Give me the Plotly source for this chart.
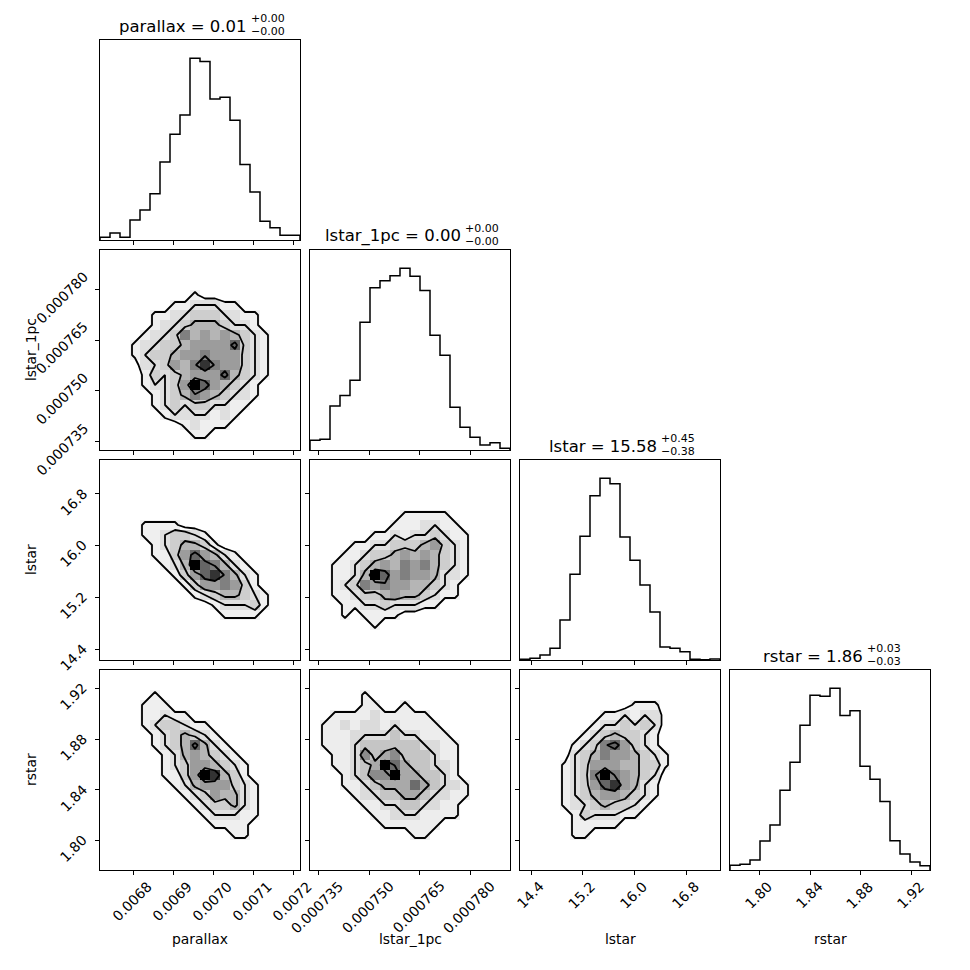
import numpy as np
import plotly.graph_objects as go

# ---------------- data ----------------
labels = ["parallax", "lstar_1pc", "lstar", "rstar"]
axis_ranges = [[0.006716, 0.007216], [0.0007325, 0.0007918], [14.23, 17.32], [1.7766, 1.9345]]
tick_values = [[0.0068, 0.0069, 0.0070, 0.0071, 0.0072],
               [0.000735, 0.000750, 0.000765, 0.000780],
               [14.4, 15.2, 16.0, 16.8],
               [1.80, 1.84, 1.88, 1.92]]
tick_text = [["0.0068", "0.0069", "0.0070", "0.0071", "0.0072"],
             ["0.000735", "0.000750", "0.000765", "0.000780"],
             ["14.4", "15.2", "16.0", "16.8"],
             ["1.80", "1.84", "1.88", "1.92"]]
title_value = ["0.01", "0.00", "15.58", "1.86"]
title_plus = ["+0.00", "+0.00", "+0.45", "+0.03"]
title_minus = ["\u22120.00", "\u22120.00", "\u22120.38", "\u22120.03"]

hist_parallax = [8, 21, 8, 60, 90, 139, 234, 317, 375, 545, 535, 423, 428, 359, 226, 144, 56, 37, 14, 14]
hist_lstar_1pc = [29, 32, 132, 163, 209, 383, 486, 507, 522, 545, 521, 478, 344, 284, 128, 68, 38, 15, 22, 5]
hist_lstar = [2, 5, 15, 35, 120, 257, 371, 492, 545, 528, 369, 299, 225, 144, 39, 35, 25, 2, 1, 3]
hist_rstar = [14, 17, 30, 87, 135, 239, 323, 434, 524, 521, 545, 463, 477, 311, 272, 205, 88, 48, 24, 13]
hists = [hist_parallax, hist_lstar_1pc, hist_lstar, hist_rstar]

# 2D histograms, 20x20 bins, rows listed from top (high y) to bottom; (first column, values)
density_parallax_lstar_1pc = [
    (0, ""), (0, ""), (0, ""), (0, ""),
    (9, "1"),
    (7, "1122211"),
    (5, "11223332211"),
    (5, "12234443221"),
    (4, "1223645454321"),
    (3, "12233455557321"),
    (3, "12334556555321"),
    (4, "2235468655321"),
    (4, "1323455574321"),
    (4, "122359754321"),
    (5, "12346543221"),
    (5, "1232332211"),
    (6, "12222121"),
    (8, "12111"),
    (9, "11"),
    (0, ""),
]
density_parallax_lstar = [
    (0, ""), (0, ""), (0, ""), (0, ""), (0, ""), (0, ""),
    (4, "1111"),
    (4, "1123321"),
    (5, "1234431"),
    (5, "113575421"),
    (6, "124976421"),
    (7, "135786421"),
    (8, "13556531"),
    (9, "12344321"),
    (11, "122231"),
    (12, "1111"),
    (0, ""), (0, ""), (0, ""), (0, ""),
]
density_lstar_1pc_lstar = [
    (0, ""), (0, ""), (0, ""), (0, ""), (0, ""),
    (9, "11111"),
    (8, "1112211"),
    (6, "1121223211"),
    (4, "112233345321"),
    (3, "1123345454321"),
    (2, "11234546564321"),
    (2, "11249756554221"),
    (2, "1236565544321"),
    (2, "1123345443211"),
    (3, "1122322211"),
    (3, "101111"),
    (6, "1"),
    (0, ""), (0, ""), (0, ""),
]
density_parallax_rstar = [
    (0, ""), (0, ""),
    (5, "1"),
    (4, "111"),
    (4, "11211"),
    (4, "1233211"),
    (5, "1234321"),
    (5, "12347421"),
    (6, "12454321"),
    (6, "123554321"),
    (6, "113598431"),
    (7, "124555321"),
    (8, "12354421"),
    (9, "1233421"),
    (10, "122211"),
    (11, "1111"),
    (13, "11"),
    (0, ""), (0, ""), (0, ""),
]
density_lstar_1pc_rstar = [
    (0, ""), (0, ""),
    (5, "1"),
    (5, "11001"),
    (2, "1111211111"),
    (1, "112122121111"),
    (1, "1112222322111"),
    (1, "11123333332211"),
    (2, "1125345333211"),
    (2, "1123486433221"),
    (3, "123558443321"),
    (3, "1123444643221"),
    (4, "122334432211"),
    (5, "1122332211"),
    (6, "112221111"),
    (7, "111111"),
    (10, "11"),
    (0, ""), (0, ""), (0, ""),
]
density_lstar_rstar = [
    (0, ""), (0, ""), (0, ""),
    (11, "111"),
    (8, "112122"),
    (7, "1223232"),
    (6, "12343321"),
    (5, "123675321"),
    (5, "2346554321"),
    (4, "12355544331"),
    (4, "1236965432"),
    (4, "1235785421"),
    (4, "1234554321"),
    (4, "122343321"),
    (5, "1322211"),
    (5, "11111"),
    (5, "11"),
    (0, ""), (0, ""), (0, ""),
]
densities = {(1, 0): density_parallax_lstar_1pc,
             (2, 0): density_parallax_lstar,
             (2, 1): density_lstar_1pc_lstar,
             (3, 0): density_parallax_rstar,
             (3, 1): density_lstar_1pc_rstar,
             (3, 2): density_lstar_rstar}
contour_levels = [0.7, 2.0, 3.6, 6.2]

NB = 20

# ---------------- layout helpers ----------------
FONT = "DejaVu Sans"
BODY = 8                       # page margin of the html body
L, R, T, B = 100, 40, 40, 100  # in page pixels
PW = 830
PANEL, GAP = 200, 10
FIG = PW + L + R - BODY        # 962


def X(px):
    return (px - L) / PW


def Y(py):
    return (870 - py) / PW


def grid(spec):
    g = np.zeros((NB, NB))
    for i, (start, vals) in enumerate(spec):
        for j, ch in enumerate(vals):
            g[i, start + j] = int(ch)
    return g[::-1]  # bottom row first


CW = {'a': 0.613, 'b': 0.635, 'c': 0.550, 'd': 0.635, 'e': 0.615, 'f': 0.352, 'g': 0.635,
      'h': 0.634, 'i': 0.278, 'j': 0.278, 'k': 0.579, 'l': 0.278, 'm': 0.974, 'n': 0.634,
      'o': 0.612, 'p': 0.635, 'q': 0.635, 'r': 0.411, 's': 0.521, 't': 0.392, 'u': 0.634,
      'v': 0.592, 'w': 0.818, 'x': 0.592, 'y': 0.592, 'z': 0.525, '_': 0.5, ' ': 0.318,
      '=': 0.838, '.': 0.318, '+': 0.838, '\u2212': 0.838}


def text_w(s, size):
    return sum(CW.get(ch, 0.636) for ch in s) * size


fig = go.Figure()
layout = {}
annotations = []
panel_id = {}
k = 0
for r in range(4):
    for c in range(r + 1):
        k += 1
        panel_id[(r, c)] = k
        xa = "x" if k == 1 else f"x{k}"
        ya = "y" if k == 1 else f"y{k}"
        x0 = c * (PANEL + GAP)
        y_top = r * (PANEL + GAP)
        xdom = [x0 / PW, (x0 + PANEL) / PW]
        ydom = [1 - (y_top + PANEL) / PW, 1 - y_top / PW]
        edges = np.linspace(axis_ranges[c][0], axis_ranges[c][1], NB + 1)
        common = dict(showgrid=False, zeroline=False, showline=True, mirror=True,
                      linecolor="black", linewidth=1, ticks="outside", ticklen=4,
                      tickwidth=1, tickcolor="black", showticklabels=False)
        layout[("xaxis" if k == 1 else f"xaxis{k}")] = dict(
            domain=xdom, range=axis_ranges[c], anchor=ya,
            tickmode="array", tickvals=tick_values[c], **common)
        if r == c:
            h = hists[c]
            xs = [edges[0]] + list(edges) + [edges[-1]]
            ys = [0] + list(h) + [h[-1], 0]
            fig.add_trace(go.Scatter(x=xs, y=ys, mode="lines", line=dict(color="black", width=1.5, shape="hv"),
                                     xaxis=xa, yaxis=ya, hoverinfo="skip", showlegend=False))
            cy = dict(common)
            cy["ticks"] = ""
            layout[("yaxis" if k == 1 else f"yaxis{k}")] = dict(
                domain=ydom, range=[0, 1.1 * max(h)], anchor=xa, **cy)
            # title with stacked super/subscript
            size_main, size_script = 16.5, 11
            main = f"{labels[c]} = {title_value[c]}"
            mw = text_w(main, size_main)
            sw = text_w(title_plus[c], size_script)
            center = L + x0 + PANEL / 2
            start = center - (mw + sw) / 2
            annotations.append(dict(text=main, xref="paper", yref="paper", x=X(start - 1), y=Y(T + y_top),
                                    xanchor="left", yanchor="bottom", yshift=3, showarrow=False, borderpad=0,
                                    font=dict(family=FONT, size=size_main, color="black")))
            annotations.append(dict(text=title_plus[c], xref="paper", yref="paper", x=X(start + mw + 3),
                                    y=Y(T + y_top), xanchor="left", yanchor="bottom", yshift=14,
                                    showarrow=False, borderpad=0,
                                    font=dict(family=FONT, size=size_script, color="black")))
            annotations.append(dict(text=title_minus[c], xref="paper", yref="paper", x=X(start + mw + 3),
                                    y=Y(T + y_top), xanchor="left", yanchor="bottom", yshift=1,
                                    showarrow=False, borderpad=0,
                                    font=dict(family=FONT, size=size_script, color="black")))
        else:
            yedges = np.linspace(axis_ranges[r][0], axis_ranges[r][1], NB + 1)
            z = grid(densities[(r, c)])
            xc = 0.5 * (edges[1:] + edges[:-1])
            yc = 0.5 * (yedges[1:] + yedges[:-1])
            fig.add_trace(go.Heatmap(x=edges, y=yedges, z=z, zmin=0, zmax=z.max(),
                                     colorscale=[[0, "rgb(255,255,255)"], [0.12, "rgb(238,238,238)"],
                                                 [0.34, "rgb(205,205,205)"], [0.56, "rgb(155,155,155)"],
                                                 [0.78, "rgb(100,100,100)"], [1, "rgb(0,0,0)"]],
                                     showscale=False, xaxis=xa, yaxis=ya, hoverinfo="skip"))
            for lev in contour_levels:
                fig.add_trace(go.Contour(x=xc, y=yc, z=z, autocontour=False,
                                         contours=dict(start=lev, end=lev, size=1, coloring="none"),
                                         line=dict(color="black", width=1.8, smoothing=0),
                                         showscale=False, xaxis=xa, yaxis=ya, hoverinfo="skip"))
            layout[("yaxis" if k == 1 else f"yaxis{k}")] = dict(
                domain=ydom, range=axis_ranges[r], anchor=xa,
                tickmode="array", tickvals=tick_values[r], **common)

# x tick labels and axis labels (bottom row)
for c in range(4):
    k = panel_id[(3, c)]
    xa = "x" if k == 1 else f"x{k}"
    for v, t in zip(tick_values[c], tick_text[c]):
        annotations.append(dict(text=t, xref=xa, yref="paper", x=v, y=Y(870), xanchor="center",
                                yanchor="top", yshift=-7, xshift=-1, textangle=-45, showarrow=False,
                                borderpad=0, font=dict(family=FONT, size=13.9, color="black")))
    annotations.append(dict(text=labels[c], xref="paper", yref="paper", x=X(L + c * (PANEL + GAP) + PANEL / 2),
                            y=Y(930), xanchor="center", yanchor="top", showarrow=False, borderpad=0,
                            font=dict(family=FONT, size=13.9, color="black")))

# y tick labels and axis labels (left column)
for r in range(1, 4):
    k = panel_id[(r, 0)]
    ya = "y" if k == 1 else f"y{k}"
    for v, t in zip(tick_values[r], tick_text[r]):
        annotations.append(dict(text=t, xref="paper", yref=ya, x=X(L), y=v, xanchor="right",
                                yanchor="middle", xshift=-8, yshift=-8, textangle=-45, showarrow=False,
                                borderpad=0, font=dict(family=FONT, size=13.9, color="black")))
    annotations.append(dict(text=labels[r], xref="paper", yref="paper", x=X(40),
                            y=Y(T + r * (PANEL + GAP) + PANEL / 2), xanchor="right", yanchor="middle",
                            textangle=-90, showarrow=False, borderpad=0,
                            font=dict(family=FONT, size=13.9, color="black")))

fig.update_layout(width=FIG, height=FIG,
                  margin=dict(l=L - BODY, r=R, t=T - BODY, b=B, pad=0, autoexpand=False),
                  paper_bgcolor="white", plot_bgcolor="white", showlegend=False,
                  font=dict(family=FONT, color="black"), annotations=annotations, **layout)
fig.write_html("out.html")
